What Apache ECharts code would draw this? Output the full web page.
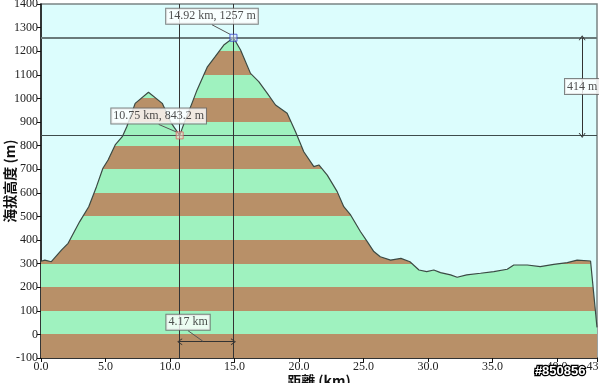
<!DOCTYPE html>
<html><head><meta charset="utf-8">
<script src="https://cdn.jsdelivr.net/npm/echarts@6/dist/echarts.min.js"></script>
<style>html,body{margin:0;padding:0;background:#fff}#c{width:599px;height:383px}</style>
</head><body><div id="c"></div>
<script>
const distanceKm = [0, 0.3, 0.8, 1.6, 2.1, 3.0, 3.7, 4.3, 4.8, 5.2, 5.75, 6.3, 6.65, 7.3, 8.33, 9.4, 10.1, 10.75,
  11.18, 11.7, 12.1, 12.9, 13.5, 14.17, 14.92, 15.47, 16.24, 16.88, 17.53, 18.18, 19.08, 19.73, 20.37, 21.15, 21.54,
  22.19, 22.96, 23.47, 24.0, 24.77, 25.29, 25.8, 26.3, 27.1, 27.9, 28.6, 29.3, 29.9, 30.45, 30.97, 31.75, 32.26,
  33.0, 34.07, 35.1, 36.14, 36.65, 37.7, 38.7, 39.75, 40.8, 41.56, 42.6, 43.1];
const elevationM = [310, 315, 308, 358, 386, 478, 541, 626, 704, 739, 803, 838, 880, 979, 1026, 979, 895, 843.2,
  908, 979, 1036, 1134, 1177, 1226, 1257, 1205, 1106, 1071, 1022, 972, 937, 859, 774, 711, 718,
  675, 605, 541, 506, 435, 393, 351, 329, 315, 322, 308, 273, 266, 273, 262, 252, 242,
  252, 259, 266, 276, 294, 294, 287, 297, 304, 315, 311, 30];

const peak = { km: 14.92, m: 1257, label: '14.92 km, 1257 m' };
const valley = { km: 10.75, m: 843.2, label: '10.75 km, 843.2 m' };
const riseLabel = '414 m';
const riseArrowKm = 41.95;
const runLabel = '4.17 km';
const runArrowM = -31;
const runLabelKm = 12.6;

const yMin = -100, yMax = 1400, yStep = 100;
const xMin = 0, xMax = 43.1, xStep = 5;

const brown = '#b89068', green = '#9ff2bf';
const pieces = [];
for (let v = yMin, i = 0; v < yMax; v += yStep, i++) {
  pieces.push({ gte: v, lt: v + yStep, color: i % 2 === 0 ? brown : green });
}

const chevron = 'path://M0,10 L5,0 L10,10 L8.6,10 L5,2.8 L1.4,10 Z';
const serif = '"Liberation Serif", "Times New Roman", serif';
const cjk = '"Noto Sans CJK TC", "Noto Sans CJK SC", sans-serif';

const boxLabel = {
  show: true, position: 'inside', backgroundColor: '#fff', borderColor: '#666', borderWidth: 1,
  padding: [2, 2, 1, 2], fontFamily: serif, fontSize: 12, color: '#222'
};
const labelOffsets = [[-21.5, -21.5], [-21, -19.5], [0, 0], [-15.5, -19.5]];

const chart = echarts.init(document.getElementById('c'));
chart.setOption({
  animation: false,
  title: {
    text: '#850856', right: 6, bottom: -2,
    textStyle: { color: '#fff', textBorderColor: '#000', textBorderWidth: 2.5, fontSize: 13, fontWeight: 'bold', fontFamily: '"Liberation Sans", Arial, sans-serif' }
  },
  grid: { left: 41, right: 2, top: 4, bottom: 25, containLabel: false, outerBoundsMode: 'none',
    show: true, backgroundColor: '#dcfdfd', borderColor: '#7a8484', borderWidth: 1.5 },
  visualMap: { type: 'piecewise', show: false, seriesIndex: 0, dimension: 1, pieces: pieces },
  xAxis: {
    type: 'value', min: xMin, max: xMax, interval: xStep,
    name: '距離 (km)', nameLocation: 'middle', nameGap: 16, nameMoveOverlap: false,
    nameTextStyle: { fontFamily: cjk, fontSize: 14, color: '#111', fontWeight: 'bold' },
    axisLine: { onZero: false, lineStyle: { color: '#111', width: 1.5 } },
    axisTick: { show: true, length: 4, lineStyle: { color: '#111' } },
    axisLabel: { margin: 3, fontFamily: serif, fontSize: 12, color: '#222', showMaxLabel: true, formatter: v => v.toFixed(1) },
    splitLine: { show: false }
  },
  yAxis: {
    type: 'value', min: yMin, max: yMax, interval: yStep,
    name: '海拔高度 (m)', nameLocation: 'middle', nameGap: 24, nameRotate: 90, nameMoveOverlap: false,
    nameTextStyle: { fontFamily: cjk, fontSize: 14, color: '#111', fontWeight: 'bold' },
    axisLine: { show: true, onZero: false, lineStyle: { color: '#111', width: 1.5 } },
    axisTick: { show: true, length: 4, lineStyle: { color: '#111' } },
    axisLabel: { margin: 3, fontFamily: serif, fontSize: 12, color: '#222', formatter: v => String(v) },
    splitLine: { show: false }
  },
  series: [
    {
      type: 'line', data: distanceKm.map((d, i) => [d, elevationM[i]]),
      showSymbol: false, symbol: 'none',
      lineStyle: { color: '#3b4a44', width: 1.2 },
      areaStyle: { origin: 'start', opacity: 1 },
      markLine: {
        silent: true, symbol: ['none', 'none'], label: { show: false },
        data: [
          { yAxis: peak.m, lineStyle: { color: '#6a7a7a', width: 1.8, type: 'solid' } },
          { yAxis: valley.m, lineStyle: { color: '#3e4c4c', width: 1, type: 'solid' } },
          { xAxis: valley.km, lineStyle: { color: '#333', width: 1, type: 'solid' } },
          { xAxis: peak.km, lineStyle: { color: '#333', width: 1, type: 'solid' } },
          [
            { coord: [riseArrowKm, valley.m], symbol: chevron, symbolSize: [7, 5], lineStyle: { color: '#333', width: 1, type: 'solid' } },
            { coord: [riseArrowKm, peak.m], symbol: chevron, symbolSize: [7, 5] }
          ],
          [
            { coord: [valley.km, runArrowM], symbol: chevron, symbolSize: [7, 5], lineStyle: { color: '#333', width: 1, type: 'solid' } },
            { coord: [peak.km, runArrowM], symbol: chevron, symbolSize: [7, 5] }
          ]
        ]
      }
    },
    {
      type: 'scatter', z: 5,
      labelLine: { show: true, lineStyle: { color: '#555', width: 1 } },
      labelLayout: p => ({ dx: labelOffsets[p.dataIndex][0], dy: labelOffsets[p.dataIndex][1] }),
      data: [
        { value: [peak.km, peak.m], symbol: 'rect', symbolSize: 7,
          itemStyle: { color: 'rgba(220,230,255,0.6)', borderColor: '#3344cc', borderWidth: 1 },
          label: Object.assign({}, boxLabel, { formatter: peak.label }) },
        { value: [valley.km, valley.m], symbol: 'rect', symbolSize: 7,
          itemStyle: { color: 'rgba(255,210,200,0.7)', borderColor: '#dd6666', borderWidth: 1 },
          label: Object.assign({}, boxLabel, { formatter: valley.label }) },
        { value: [riseArrowKm, (peak.m + valley.m) / 2], symbol: 'circle', symbolSize: 2,
          itemStyle: { color: 'rgba(0,0,0,0)' },
          label: Object.assign({}, boxLabel, { formatter: riseLabel }) },
        { value: [runLabelKm, runArrowM], symbol: 'circle', symbolSize: 2,
          itemStyle: { color: 'rgba(0,0,0,0)' },
          label: Object.assign({}, boxLabel, { formatter: runLabel }) }
      ]
    }
  ]
});
</script></body></html>
